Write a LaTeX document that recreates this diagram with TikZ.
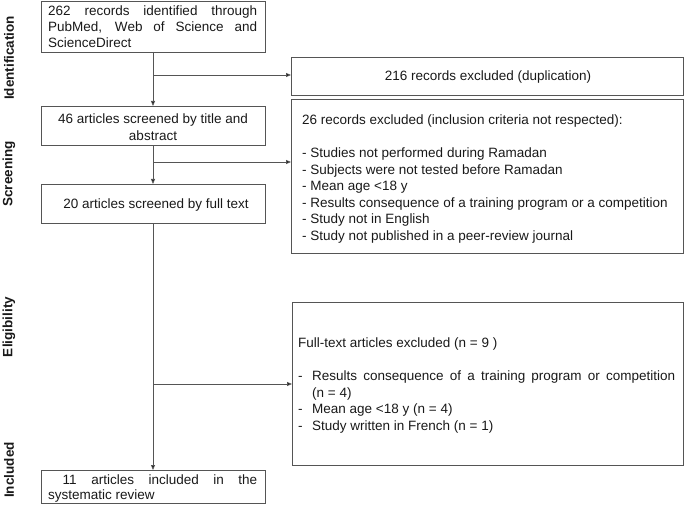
\documentclass[tikz,border=0pt]{standalone}
\usepackage{fontspec}
\setmainfont{Liberation Sans}
\usetikzlibrary{arrows.meta}
\definecolor{linegray}{RGB}{85,85,85}
\definecolor{txt}{RGB}{25,25,25}
\newcommand{\spreadln}[2]{\makebox[#1][s]{#2}}
\begin{document}
\begin{tikzpicture}[x=1pt,y=-1pt,
  every node/.style={font=\fontsize{13.5}{16.5}\selectfont, text=txt},
  box/.style={draw=linegray, line width=0.9pt, rectangle, inner sep=0pt, anchor=north west},
  lbl/.style={font=\fontsize{13.5}{16}\selectfont\bfseries, rotate=90, text=txt},
  arr/.style={draw=linegray, line width=0.9pt, -{Triangle[length=5pt,width=4pt,fill=black]}},
  ln/.style={draw=linegray, line width=0.9pt}]
\useasboundingbox (0,0) rectangle (685,513);

% side labels
\node[lbl] (lid) at (9,58) {Identification};
\node[lbl] (lsc) at (9,174) {Screening};
\node[lbl] (lel) at (9,327) {Eligibility};
\node[lbl] (lin) at (9,470) {Included};

% left column boxes
\node[box, minimum width=224pt, minimum height=51pt] (b1) at (41,1) {};
\node[anchor=north west, inner sep=0pt, align=left,
      font=\fontsize{13.5}{15.7}\selectfont] (b1t) at (48,6)
  {\spreadln{209pt}{262 records identified through}\\
   \spreadln{209pt}{PubMed, Web of Science and}\\
   ScienceDirect};

\node[box, minimum width=224pt, minimum height=39pt] (b2) at (41,106) {};
\node[align=center, inner sep=0pt, font=\fontsize{13.5}{16.5}\selectfont] (b2t) at (153,127)
  {46 articles screened by title and\\abstract};

\node[box, minimum width=224pt, minimum height=39pt] (b3) at (41,184) {};
\node[inner sep=0pt] (b3t) at (156,205) {20 articles screened by full text};

\node[box, minimum width=224pt, minimum height=33pt] (b5) at (41,470) {};
\node[anchor=north west, inner sep=0pt, align=left,
      font=\fontsize{13.5}{14.5}\selectfont] (b5t) at (48,475)
  {\spreadln{209pt}{\ 11 articles included in the}\\
   systematic review};

% right column boxes
\node[box, minimum width=392pt, minimum height=38pt] (e1) at (291,57) {};
\node[inner sep=0pt] (e1t) at (488,77.5) {216 records excluded (duplication)};

\node[box, minimum width=392pt, minimum height=154pt] (e2) at (291,99) {};
\node[anchor=north west, inner sep=0pt, align=left] (e2t) at (302,115)
  {26 records excluded (inclusion criteria not respected):\\[16.5pt]
   - Studies not performed during Ramadan\\
   - Subjects were not tested before Ramadan\\
   - Mean age <18 y\\
   - Results consequence of a training program or a competition\\
   - Study not in English\\
   - Study not published in a peer-review journal};

\node[box, minimum width=391pt, minimum height=163pt] (e3) at (292,302) {};
\node[anchor=north west, inner sep=0pt, align=left] (e3t) at (298,338)
  {Full-text articles excluded (n = 9 )};
\node[anchor=north west, inner sep=0pt, align=left] (e3l) at (298,371)
  {\makebox[14pt][l]{-}\spreadln{363pt}{Results consequence of a training program or competition}\\
   \makebox[14pt][l]{}(n = 4)\\
   \makebox[14pt][l]{-}Mean age <18 y (n = 4)\\
   \makebox[14pt][l]{-}Study written in French (n = 1)};

% connectors
\coordinate (s1) at (153,52);
\coordinate (d1) at (153,75);
\coordinate (d2) at (153,162);
\coordinate (d3) at (153,384);
\draw[arr] (s1) -- (b2.north -| s1);
\draw[arr] (b2.south -| s1) -- (b3.north -| s1);
\draw[arr] (b3.south -| s1) -- (b5.north -| s1);
\draw[arr] (d1) -- (e1.west |- d1);
\draw[arr] (d2) -- (e2.west |- d2);
\draw[arr] (d3) -- (e3.west |- d3);
\end{tikzpicture}
\end{document}
